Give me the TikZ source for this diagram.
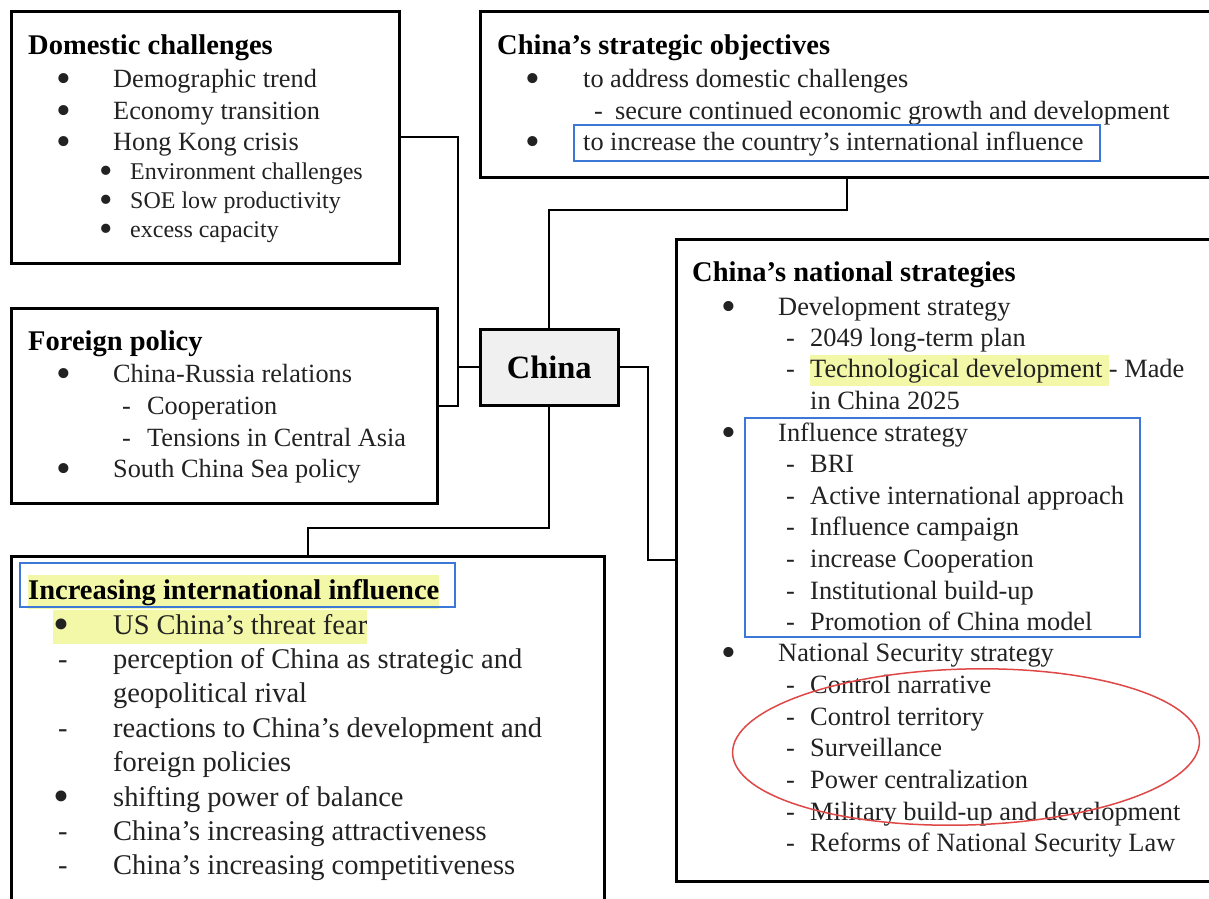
\documentclass[tikz,border=0pt]{standalone}
\usepackage{fontspec}
\setmainfont{Liberation Serif}
\usepackage{xcolor}
\usepackage{graphicx}
\usetikzlibrary{positioning,fit,shapes.geometric}
\definecolor{ink}{HTML}{222222}
\definecolor{hl}{HTML}{F3F7A8}
\definecolor{markblue}{HTML}{3D78D8}
\definecolor{markred}{HTML}{E04848}
\definecolor{chinafill}{HTML}{F0F0F0}
% font sizes (1 unit = 1pt = 1 px of the layout)
\newcommand{\fbody}{\fontsize{26.3}{31}\selectfont}
\newcommand{\fsub}{\fontsize{24}{29}\selectfont}
\newcommand{\fbig}{\fontsize{28.5}{34}\selectfont}
\newcommand{\fnat}{\fontsize{26.4}{31.5}\selectfont}
\newcommand{\fttl}{\fontsize{28.5}{34}\selectfont\bfseries}
% list markers
\newcommand{\bigdot}{\smash{\raisebox{-0.2em}{\scalebox{1.6}{\textbullet}}}}
\newcommand{\bul}[1]{\makebox[#1pt][l]{\bigdot}}
\newcommand{\dsh}[1]{\makebox[#1pt][l]{-}}
\newcommand{\hlt}[1]{{\setlength\fboxsep{0pt}\colorbox{hl}{\strut #1}}}

\begin{document}
\begin{tikzpicture}[x=1pt, y=-1pt,
    panel/.style={draw, line width=2.5pt, anchor=north west, inner sep=0pt},
    link/.style={line width=2pt},
    ttl/.style={anchor=base west, inner sep=0pt, font=\fttl},
    txt/.style={anchor=base west, inner sep=0pt, text=ink},
    bluemark/.style={draw=markblue, line width=1.5pt, inner sep=0pt},
    redmark/.style={draw=markred, line width=1.5pt, ellipse, inner sep=0pt}
]
    \clip (0,0) rectangle (1209,898);
    \fill[white] (0,0) rectangle (1209,898);

    % panels
    \node[panel, minimum width=388, minimum height=252] (dom) at (10,10) {};
    \node[panel, minimum width=734, minimum height=166] (obj) at (479,10) {};
    \node[panel, minimum width=426, minimum height=195] (fp) at (10,307) {};
    \node[panel, minimum width=138, minimum height=76, fill=chinafill] (china) at (479,328) {};
    \node[font=\fontsize{32.5}{36}\selectfont\bfseries] (chinat) at (china.center) {China};
    \node[panel, minimum width=593, minimum height=360] (inf) at (10,555) {};
    \node[panel, minimum width=540, minimum height=642] (nat) at (675,238) {};

    % connectors
    \draw[link] (dom.east) -- ++(57.5,0) coordinate (lbus) |- (fp.east);
    \draw[link] (china.west) -- (china.west -| lbus);
    \draw[link] (obj.south) -- ++(0,31) -| (china.north);
    \draw[link] (china.south) -- ++(0,121) -| (inf.north);
    \draw[link] (china.east) -- ++(28,0) |- (nat.west);

    % Domestic challenges
    \node[ttl] (domt) at (28,54) {Domestic challenges};
    \node[txt, font=\fbody] (dom1) at (56,87) {\bul{57}Demographic trend};
    \node[txt, font=\fbody] (dom2) at (56,119) {\bul{57}Economy transition};
    \node[txt, font=\fbody] (dom3) at (56,150) {\bul{57}Hong Kong crisis};
    \node[txt, font=\fsub] (dom4) at (99,179) {\bul{31}Environment challenges};
    \node[txt, font=\fsub] (dom5) at (99,208) {\bul{31}SOE low productivity};
    \node[txt, font=\fsub] (dom6) at (99,237) {\bul{31}excess capacity};

    % strategic objectives
    \node[ttl] (objt) at (497,54) {China’s strategic objectives};
    \node[txt, font=\fbody] (obj1) at (525,87) {\bul{58}to address domestic challenges};
    \node[txt, font=\fbody] (obj2) at (594,119) {\dsh{21}secure continued economic growth and development};
    \node[txt, font=\fbody] (obj3) at (525,150) {\bul{58}to increase the country’s international influence};
    \node[bluemark, fit={(574,125) (1100,161)}] (objmark) {};

    % foreign policy
    \node[ttl] (fpt) at (28,350) {Foreign policy};
    \node[txt, font=\fbody] (fp1) at (56,382) {\bul{57}China-Russia relations};
    \node[txt, font=\fbody] (fp2) at (122,414) {\dsh{25}Cooperation};
    \node[txt, font=\fbody] (fp3) at (122,446) {\dsh{25}Tensions in Central Asia};
    \node[txt, font=\fbody] (fp4) at (56,477) {\bul{57}South China Sea policy};

    % increasing international influence
    \node[ttl, font=\fttl] (inft) at (28,599) {\hlt{Increasing international influence}};
    \node[bluemark, fit={(20,563) (455,607)}] (infmark) {};
    \node[txt, font=\fbig] (inf1) at (53,634) {\hlt{\bul{60}US China’s threat fear}};
    \node[txt, font=\fbig] (inf2) at (58,668) {\dsh{55}perception of China as strategic and};
    \node[txt, font=\fbig] (inf3) at (113,702) {geopolitical rival};
    \node[txt, font=\fbig] (inf4) at (58,737) {\dsh{55}reactions to China’s development and};
    \node[txt, font=\fbig] (inf5) at (113,771) {foreign policies};
    \node[txt, font=\fbig] (inf6) at (53,806) {\bul{60}shifting power of balance};
    \node[txt, font=\fbig] (inf7) at (58,840) {\dsh{55}China’s increasing attractiveness};
    \node[txt, font=\fbig] (inf8) at (58,874) {\dsh{55}China’s increasing competitiveness};

    % national strategies
    \node[ttl] (natt) at (692,281) {China’s national strategies};
    \node[txt, font=\fnat] (nat1) at (721,315) {\bul{57}Development strategy};
    \node[txt, font=\fnat] (nat2) at (786,346) {\dsh{24}2049 long-term plan};
    \node[txt, font=\fnat] (nat3) at (786,377) {\dsh{24}\hlt{Technological development\ }- Made};
    \node[txt, font=\fnat] (nat4) at (810,409) {in China 2025};
    \node[txt, font=\fnat] (nat5) at (721,441) {\bul{57}Influence strategy};
    \node[txt, font=\fnat] (nat6) at (786,472) {\dsh{24}BRI};
    \node[txt, font=\fnat] (nat7) at (786,504) {\dsh{24}Active international approach};
    \node[txt, font=\fnat] (nat8) at (786,535) {\dsh{24}Influence campaign};
    \node[txt, font=\fnat] (nat9) at (786,567) {\dsh{24}increase Cooperation};
    \node[txt, font=\fnat] (nat10) at (786,599) {\dsh{24}Institutional build-up};
    \node[txt, font=\fnat] (nat11) at (786,630) {\dsh{24}Promotion of China model};
    \node[txt, font=\fnat] (nat12) at (721,661) {\bul{57}National Security strategy};
    \node[txt, font=\fnat] (nat13) at (786,693) {\dsh{24}Control narrative};
    \node[txt, font=\fnat] (nat14) at (786,725) {\dsh{24}Control territory};
    \node[txt, font=\fnat] (nat15) at (786,756) {\dsh{24}Surveillance};
    \node[txt, font=\fnat] (nat16) at (786,788) {\dsh{24}Power centralization};
    \node[txt, font=\fnat] (nat17) at (786,820) {\dsh{24}Military build-up and development};
    \node[txt, font=\fnat] (nat18) at (786,851) {\dsh{24}Reforms of National Security Law};
    \node[bluemark, fit={(745,418) (1140,637)}] (natmark) {};
    \node[redmark, minimum width=467, minimum height=156, rotate=1.5] (secring) at (966,747) {};
\end{tikzpicture}
\end{document}
